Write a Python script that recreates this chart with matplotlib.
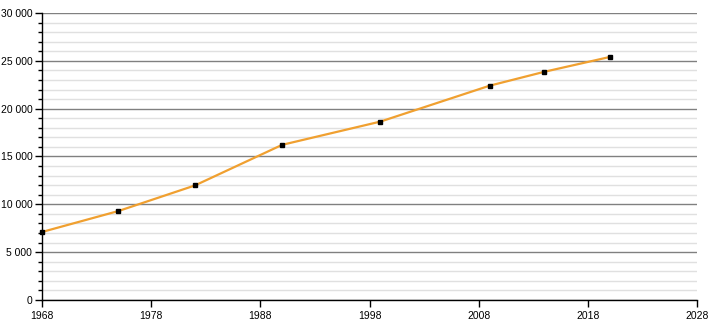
import matplotlib.pyplot as plt
from matplotlib.ticker import MultipleLocator, FuncFormatter

years = [1968, 1975, 1982, 1990, 1999, 2009, 2014, 2020]
population = [7110, 9300, 11970, 16220, 18650, 22400, 23850, 25400]
year_ticks = [1968, 1978, 1988, 1998, 2008, 2018, 2028]

plt.rcParams['font.family'] = ['Liberation Sans', 'DejaVu Sans']

fig = plt.figure(figsize=(7.1, 3.2), dpi=100)
ax = fig.add_axes([42 / 710, 20 / 320, 655 / 710, 287 / 320])

ax.plot(years, population, color='#f0a030', linewidth=1.6, zorder=3)
ax.plot(years, population, linestyle='none', marker='s', markersize=3.3,
        color='black', zorder=4, clip_on=False)

ax.set_xlim(1968, 2028)
ax.set_ylim(0, 30000)
ax.set_xticks(year_ticks)
ax.yaxis.set_major_locator(MultipleLocator(5000))
ax.yaxis.set_minor_locator(MultipleLocator(1000))
ax.yaxis.set_major_formatter(FuncFormatter(lambda v, p: f"{int(v):,}".replace(",", " ")))

ax.grid(which='major', axis='y', color='#808080', linewidth=1.0)
ax.grid(which='minor', axis='y', color='#e0e0e0', linewidth=1.0)
ax.set_axisbelow(True)

for side in ['top', 'right']:
    ax.spines[side].set_visible(False)
ax.spines['left'].set_linewidth(1.0)
ax.spines['bottom'].set_linewidth(1.0)

ax.tick_params(which='major', length=5, width=1, labelsize=7.5, pad=2)
ax.tick_params(which='minor', length=3, width=1)
ax.tick_params(axis='x', pad=3)

fig.savefig('out.png', dpi=100)
plt.close(fig)
